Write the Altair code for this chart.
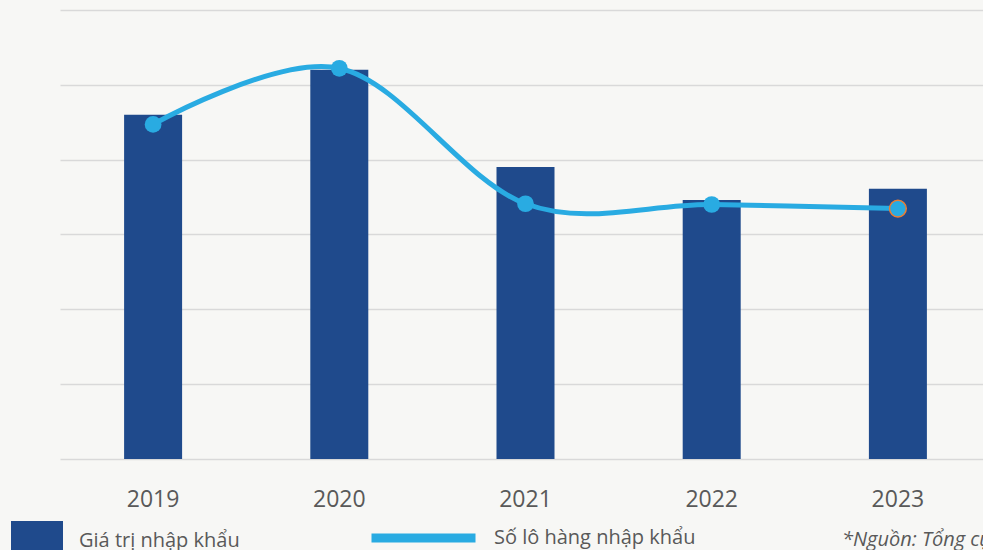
import altair as alt
import pandas as pd

years = ["2019", "2020", "2021", "2022", "2023"]
import_value = [460, 520, 390, 346, 361]
shipments = [447, 522, 341, 340, 334.5]
bar_label = "Giá trị nhập khẩu"
line_label = "Số lô hàng nhập khẩu"
source_note = "*Nguồn: Tổng cục Hải quan"
grid_values = [0, 100, 200, 300, 400, 500, 600]

FONT = "Open Sans"
TEXT = "#595959"
BAR = "#1F4A8C"
LINE = "#29ABE2"
LEG_SIZE = 20

bars_df = pd.DataFrame({"year": years, "value": import_value, "series": bar_label})
line_df = pd.DataFrame({"year": years, "value": shipments, "series": line_label,
                        "last": [y == years[-1] for y in years]})
note_df = pd.DataFrame({"note": [source_note]})

xscale = alt.Scale(domain=years, range=[0, 931], paddingInner=0, paddingOuter=0)
yscale = alt.Scale(domain=[0, 613.2], nice=False, zero=True)

x_axis = alt.Axis(title=None, domain=False, ticks=False, grid=False,
                  labelAngle=0, labelFontSize=23, labelColor=TEXT,
                  labelFont=FONT, labelPadding=29)
y_axis = alt.Axis(title=None, labels=False, domain=False, ticks=False,
                  values=grid_values, gridColor="#D9D9D9", gridWidth=1.5)


def xe():
    return alt.X("year:N", scale=xscale, sort=years, axis=x_axis)


def ye():
    return alt.Y("value:Q", scale=yscale, axis=y_axis)


bars = alt.Chart(bars_df).mark_bar(size=58).encode(
    x=xe(),
    y=ye(),
    color=alt.Color("series:N", scale=alt.Scale(domain=[bar_label], range=[BAR]),
                    legend=alt.Legend(orient="none", legendX=-49, legendY=521,
                                      title=None, symbolType="square", symbolSize=2704,
                                      symbolStrokeWidth=0, labelFontSize=LEG_SIZE,
                                      labelColor=TEXT, labelFont=FONT, labelOffset=16,
                                      labelBaseline="alphabetic", labelLimit=400,
                                      padding=0)),
)

line = alt.Chart(line_df).mark_line(interpolate="cardinal", strokeWidth=5).encode(
    x=xe(),
    y=ye(),
    stroke=alt.Stroke("series:N", scale=alt.Scale(domain=[line_label], range=[LINE]),
                      legend=alt.Legend(orient="none", legendX=307, legendY=481.5,
                                        title=None, symbolType="stroke", symbolSize=10816,
                                        symbolStrokeWidth=9, labelFontSize=LEG_SIZE,
                                        labelColor=TEXT, labelFont=FONT, labelOffset=14,
                                        labelLimit=400, padding=0)),
)

points = alt.Chart(line_df).mark_point(filled=True, size=280, opacity=1).encode(
    x=xe(),
    y=ye(),
    fill=alt.value(LINE),
    stroke=alt.condition("datum.last", alt.value("#ED7D31"), alt.value(LINE)),
    strokeWidth=alt.condition("datum.last", alt.value(1.5), alt.value(0)),
)

note = alt.Chart(note_df).mark_text(align="left", baseline="alphabetic", fontSize=LEG_SIZE,
                                     fontStyle="italic", font=FONT, color=TEXT).encode(
    text="note:N", x=alt.value(782), y=alt.value(546))

chart = alt.layer(bars, line, points, note).properties(
    width=923, height=459,
    autosize=alt.AutoSizeParams(type="none"),
    padding={"left": 60, "top": 0, "right": 0, "bottom": 91},
    background="#F7F7F5",
).configure(font=FONT, view=alt.ViewConfig(stroke="transparent", strokeWidth=0))

chart.save("out.html", embed_options={"renderer": "svg", "actions": False})
